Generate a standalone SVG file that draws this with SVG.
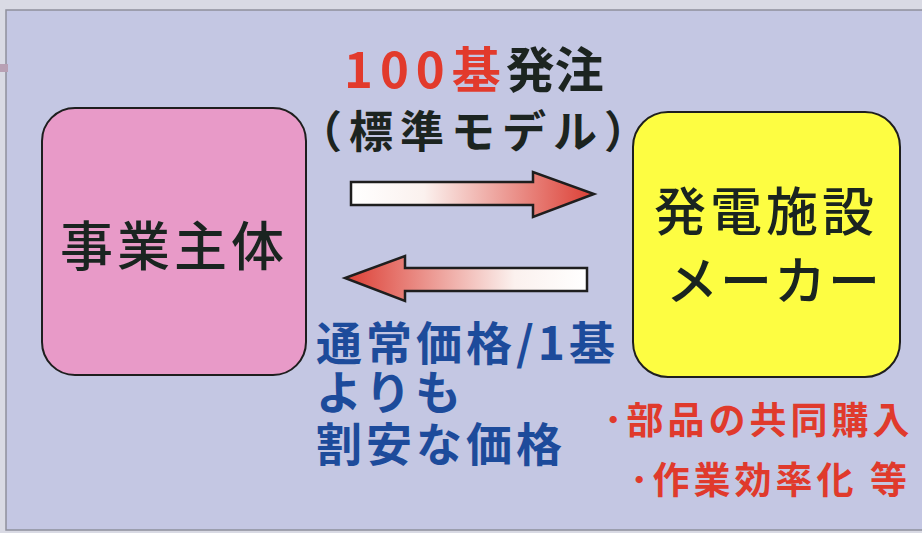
<svg xmlns="http://www.w3.org/2000/svg" width="922" height="533" viewBox="0 0 922 533">
<defs>
<linearGradient id="gR" x1="0" y1="0" x2="1" y2="0">
<stop offset="0" stop-color="#ffffff"/><stop offset="0.3" stop-color="#fbf1ee"/><stop offset="1" stop-color="#dc3e34"/>
</linearGradient>
<linearGradient id="gL" x1="1" y1="0" x2="0" y2="0">
<stop offset="0" stop-color="#ffffff"/><stop offset="0.3" stop-color="#fbf1ee"/><stop offset="1" stop-color="#dc3e34"/>
</linearGradient>
<style>
.jp{font-family:"Noto Sans CJK JP","Noto Sans",sans-serif;}
.node{stroke:#1e1e1e;stroke-width:2;}
.arr{stroke:#1e1e1e;stroke-width:2.5;stroke-linejoin:miter;}
.blue{fill:#1d4b9b;font-weight:bold;font-size:46px;letter-spacing:4px;}
.red{fill:#e03a2c;font-weight:bold;font-size:37px;letter-spacing:4px;}
</style>
</defs>
<rect x="0" y="0" width="922" height="533" fill="#d9dae4"/>
<rect x="6" y="10" width="920" height="520" fill="#c4c7e3" stroke="#8e909c" stroke-width="1.5"/>
<rect x="0" y="64" width="8" height="8" fill="#b8a0b4"/>

<g id="connectors">
<path class="arr" fill="url(#gR)" d="M351,182 H533 V172 L594,194 L533,217 V205 H351 Z"/>
<path class="arr" fill="url(#gL)" d="M587,268 H405 V256 L345,278 L405,301 V291 H587 Z"/>
</g>

<g id="label-top" class="jp">
<text x="344" y="88" font-size="49" font-weight="bold"><tspan fill="#e23a2c" letter-spacing="7">100</tspan><tspan fill="#e23a2c">基</tspan><tspan fill="#1c2420" dx="5">発注</tspan></text>
<text x="298" y="148" font-size="44" font-weight="bold" fill="#1c2420" letter-spacing="7">（標準モデル）</text>
</g>

<g id="node-jigyo">
<rect class="node" x="42" y="108" width="264" height="267" rx="33" fill="#e89ac8"/>
<text class="jp" x="174" y="266" font-size="53" font-weight="500" fill="#1a2420" text-anchor="middle" letter-spacing="4">事業主体</text>
</g>

<g id="node-maker">
<rect class="node" x="633" y="112" width="267" height="265" rx="35" fill="#fdfd42"/>
<text class="jp" x="766" y="231" font-size="52" font-weight="500" fill="#1a2420" text-anchor="middle" letter-spacing="4">発電施設</text>
<text class="jp" x="774" y="300" font-size="52" font-weight="500" fill="#1a2420" text-anchor="middle" letter-spacing="2">メーカー</text>
</g>

<g id="label-price" class="jp">
<text class="blue" x="316" y="360">通常価格/1基</text>
<text class="blue" x="316" y="409">よりも</text>
<text class="blue" x="316" y="461">割安な価格</text>
</g>

<g id="label-effect" class="jp">
<text class="red" x="604" y="434">･部品の共同購入</text>
<text class="red" x="630" y="494">･作業効率化 等</text>
</g>
</svg>
